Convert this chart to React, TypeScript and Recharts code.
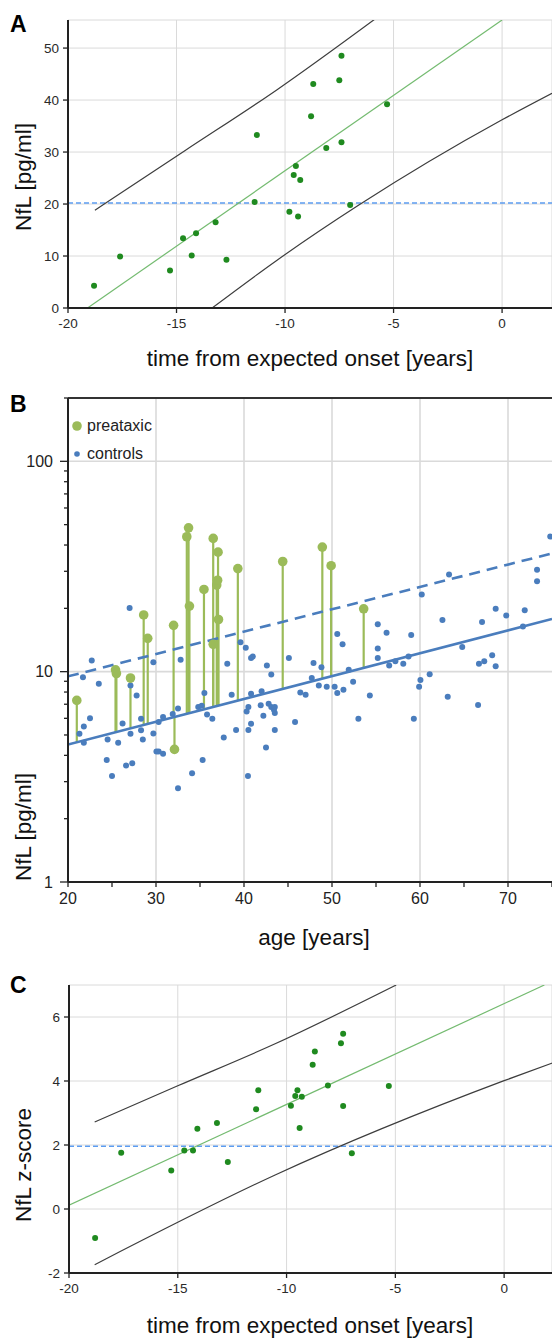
import React from 'react';
import { ComposedChart, Scatter, Line, XAxis, YAxis, CartesianGrid, ReferenceLine, Legend } from 'recharts';

// ---------- Panel A : NfL vs time from expected onset ----------
const aYears = [-18.8, -17.6, -15.3, -14.7, -14.3, -14.1, -13.2, -12.7, -11.4, -11.3, -7.4, -8.7, -7.5, -5.3, -8.8, -8.1, -7.4, -9.5, -9.6, -9.3, -7.0, -9.8, -9.4];
const aNfl = [4.3, 9.9, 7.2, 13.4, 10.1, 14.4, 16.5, 9.3, 20.4, 33.3, 48.5, 43.1, 43.8, 39.2, 36.9, 30.8, 31.9, 27.3, 25.6, 24.6, 19.8, 18.5, 17.6];
const aFitX = [-19.1, 0];
const aFitY = [0, 55.4];
const aUpperX = [-18.76, -14.6, -10.4, -5.85];
const aUpperY = [18.8, 30.3, 41.9, 55.6];
const aLowerX = [-13.36, -10.4, -6.6, 0, 2.3];
const aLowerY = [0, 9.1, 19.8, 36.2, 41.3];
const aThreshold = 20.2;
const aXTicks = [-20, -15, -10, -5, 0];
const aYTicks = [0, 10, 20, 30, 40, 50];

// ---------- Panel B : NfL vs age (log) ----------
const bPreAge = [21.0, 25.4, 25.5, 27.1, 28.6, 29.06, 32.0, 32.1, 33.5, 33.7, 33.8, 35.45, 36.5, 36.5, 36.9, 37.0, 37.05, 37.1, 39.3, 44.4, 48.9, 49.9, 53.6];
const bPreNfl = [7.3, 10.2, 9.8, 9.33, 18.6, 14.4, 16.6, 4.27, 43.8, 48.3, 20.5, 24.6, 43.0, 13.5, 25.8, 27.2, 37.0, 17.7, 30.9, 33.4, 39.1, 31.9, 19.9];
const bCtrlAge = [21.3, 21.7, 21.8, 21.8, 22.5, 22.7, 23.5, 24.4, 24.5, 25.0, 25.7, 26.2, 26.6, 27.0, 27.1, 27.1, 27.3, 27.8, 28.3, 28.3, 28.5, 29.7, 29.7, 30.05, 30.3, 30.8, 30.3, 30.8, 31.9, 32.5, 32.5, 32.8, 34.1, 34.8, 35.2, 35.3, 35.5, 35.8, 36.4, 37.7, 38.1, 38.6, 39.1, 39.6, 40.2, 40.3, 40.45, 40.5, 40.5, 40.8, 40.8, 40.8, 41.0, 41.9, 42.0, 42.2, 42.5, 42.6, 42.8, 43.1, 43.1, 43.4, 43.5, 43.5, 43.5, 45.1, 45.8, 46.4, 47.0, 47.7, 47.9, 48.5, 48.8, 49.4, 50.3, 50.6, 50.6, 51.2, 51.3, 51.9, 52.4, 53.0, 54.3, 55.2, 55.2, 55.2, 56.2, 56.5, 57.2, 58.1, 58.7, 59.0, 59.3, 59.9, 60.05, 60.2, 61.1, 62.55, 63.15, 63.3, 64.8, 66.6, 66.7, 67.05, 67.3, 68.2, 68.6, 68.6, 69.8, 71.7, 71.9, 73.3, 73.3, 74.8];
const bCtrlNfl = [5.07, 9.4, 5.49, 4.59, 6.0, 11.3, 8.77, 3.80, 4.76, 3.19, 4.59, 5.67, 3.58, 20.1, 8.6, 5.07, 3.67, 7.71, 5.97, 5.27, 4.76, 11.07, 5.08, 4.17, 4.17, 4.07, 5.76, 6.08, 6.29, 6.69, 2.79, 11.4, 3.29, 6.79, 6.89, 3.80, 7.91, 6.26, 5.97, 4.87, 10.9, 7.77, 5.28, 13.8, 13.0, 6.47, 3.19, 5.28, 6.79, 5.65, 7.85, 11.6, 11.8, 6.92, 8.06, 6.17, 4.36, 10.7, 7.04, 6.79, 9.7, 6.59, 6.79, 6.36, 5.28, 11.6, 5.76, 7.97, 7.77, 9.33, 11.0, 8.6, 10.5, 8.48, 8.48, 7.91, 15.1, 13.5, 8.21, 10.2, 8.96, 5.97, 7.71, 16.8, 12.9, 11.6, 15.3, 10.7, 11.2, 10.9, 11.8, 14.95, 5.97, 8.48, 9.13, 23.3, 9.71, 17.6, 7.6, 29.0, 13.1, 6.94, 10.9, 17.2, 11.2, 11.96, 10.6, 19.9, 18.5, 16.4, 19.6, 30.5, 26.9, 43.9];
const bFitAge = [20, 75];
const bFitSolid = [4.5, 17.8];
const bFitDashed = [9.5, 36.5];
const bXTicks = [20, 25, 30, 35, 40, 45, 50, 55, 60, 65, 70, 75];
const bXGrid = [30, 40, 50, 60, 70];
const bYTicks = [1, 2, 3, 4, 5, 6, 7, 8, 9, 10, 20, 30, 40, 50, 60, 70, 80, 90, 100, 200];
const bYLabels = [1, 10, 100];
const bYGrid = [10, 100];
const bLegend = ['preataxic', 'controls'];

// ---------- Panel C : z-score vs time from expected onset ----------
const cYears = [-18.8, -17.6, -15.3, -14.7, -14.3, -14.1, -13.2, -12.7, -11.4, -11.3, -7.4, -7.5, -8.7, -8.8, -8.1, -5.3, -9.5, -9.6, -9.3, -9.8, -7.4, -9.4, -7.0];
const cZ = [-0.91, 1.76, 1.20, 1.83, 1.83, 2.51, 2.69, 1.47, 3.12, 3.71, 5.48, 5.18, 4.92, 4.51, 3.86, 3.84, 3.71, 3.53, 3.51, 3.23, 3.22, 2.53, 1.74];
const cFitX = [-20, 1.85];
const cFitY = [0.12, 7.0];
const cUpperX = [-18.82, -15, -10.5, -4.96];
const cUpperY = [2.72, 3.85, 5.17, 7.0];
const cLowerX = [-18.82, -10.5, 0, 2.2];
const cLowerY = [-1.74, 1.07, 4.01, 4.56];
const cThreshold = 1.96;
const cXTicks = [-20, -15, -10, -5, 0];
const cYTicks = [-2, 0, 2, 4, 6];

const zip = (xs: number[], ys: number[]) => xs.map((x, i) => ({ x, y: ys[i] }));

const aPoints = zip(aYears, aNfl);
const aFit = zip(aFitX, aFitY);
const aUpper = zip(aUpperX, aUpperY);
const aLower = zip(aLowerX, aLowerY);
const bPre = zip(bPreAge, bPreNfl);
const bCtrl = zip(bCtrlAge, bCtrlNfl);
const bSolid = zip(bFitAge, bFitSolid);
const bDashed = zip(bFitAge, bFitDashed);
const cPoints = zip(cYears, cZ);
const cFit = zip(cFitX, cFitY);
const cUpper = zip(cUpperX, cUpperY);
const cLower = zip(cLowerX, cLowerY);

const fitAt = (age: number) => {
  const t = (age - bFitAge[0]) / (bFitAge[1] - bFitAge[0]);
  return Math.exp(Math.log(bFitSolid[0]) + t * (Math.log(bFitSolid[1]) - Math.log(bFitSolid[0])));
};

const FONT = '"Liberation Sans", Arial, Helvetica, sans-serif';
const DARK_GREEN = '#1f8a1f';
const LIGHT_GREEN = '#74bb70';
const BAND = '#3d3d3d';
const THRESH = '#5c9cf0';
const GRID = '#dadada';
const AXIS = '#222';
const B_GREEN = '#9bbb59';
const B_BLUE = '#4a7dbd';

const dot = (r: number, fill: string) => (p: any) => <circle cx={p.cx} cy={p.cy} r={r} fill={fill} />;

const B_TICK = 8;
const B_MARGIN = 7;
function BYTick(props: any) {
  const { x, y, payload } = props;
  const v = payload.value;
  const major = bYLabels.includes(v);
  const ax = x + B_TICK + B_MARGIN;
  return (
    <g>
      <line x1={ax} x2={ax - (major ? 8 : 4)} y1={y} y2={y} stroke={AXIS} strokeWidth={1.3} />
      {major && (
        <text x={x} y={y} dy="0.36em" textAnchor="end" fontSize={16} fill="#222" fontFamily={FONT}>
          {v}
        </text>
      )}
    </g>
  );
}

function BLegend() {
  return (
    <div style={{ fontFamily: FONT, fontSize: 16, color: '#222', lineHeight: '28px' }}>
      <div style={{ display: 'flex', alignItems: 'center' }}>
        <svg width={14} height={14} style={{ marginRight: 2 }}>
          <circle cx={6} cy={7} r={4.8} fill={B_GREEN} />
        </svg>
        <span>{bLegend[0]}</span>
      </div>
      <div style={{ display: 'flex', alignItems: 'center' }}>
        <svg width={14} height={14} style={{ marginRight: 2 }}>
          <circle cx={6} cy={7} r={2.8} fill={B_BLUE} />
        </svg>
        <span>{bLegend[1]}</span>
      </div>
    </div>
  );
}

const smallTick = { fontSize: 13.5, fill: '#2a2a2a', fontFamily: FONT };
const bigTick = { fontSize: 16, fill: '#222', fontFamily: FONT };
const TITLE = 22.5;

export default function App() {
  return (
    <div style={{ position: 'absolute', left: 0, top: 0, width: 552, height: 1339, background: '#fff', overflow: 'hidden', fontFamily: FONT }}>
      {/* Panel A */}
      <div style={{ position: 'absolute', left: 0, top: 0 }}>
        <ComposedChart width={552} height={370} margin={{ top: 20, right: 0, bottom: 0, left: 0 }}>
          <CartesianGrid stroke={GRID} strokeWidth={1} />
          <XAxis type="number" dataKey="x" domain={[-20, 2.3]} allowDataOverflow ticks={aXTicks} interval={0}
            height={62} tickSize={5} tickMargin={5} tick={smallTick}
            axisLine={{ stroke: AXIS, strokeWidth: 2 }} tickLine={{ stroke: AXIS, strokeWidth: 1.3 }} />
          <YAxis type="number" dataKey="y" domain={[0, 55.4]} allowDataOverflow ticks={aYTicks} interval={0}
            width={68} tickSize={5} tickMargin={4} tick={smallTick}
            axisLine={{ stroke: AXIS, strokeWidth: 2 }} tickLine={{ stroke: AXIS, strokeWidth: 1.3 }} />
          <ReferenceLine y={aThreshold} stroke={THRESH} strokeWidth={1.6} strokeDasharray="5 3" />
          <Line data={aUpper} dataKey="y" type="monotone" stroke={BAND} strokeWidth={1.2} dot={false} isAnimationActive={false} />
          <Line data={aLower} dataKey="y" type="monotone" stroke={BAND} strokeWidth={1.2} dot={false} isAnimationActive={false} />
          <Line data={aFit} dataKey="y" type="linear" stroke={LIGHT_GREEN} strokeWidth={1.2} dot={false} isAnimationActive={false} />
          <Scatter data={aPoints} dataKey="y" shape={dot(3, DARK_GREEN)} isAnimationActive={false} />
        </ComposedChart>
      </div>

      {/* Panel B */}
      <div style={{ position: 'absolute', left: 0, top: 390 }}>
        <ComposedChart width={552} height={532} margin={{ top: 8, right: 0, bottom: 0, left: 0 }}>
          {bXGrid.map((v) => (
            <ReferenceLine key={'gx' + v} x={v} stroke={GRID} strokeWidth={1.6} />
          ))}
          {bYGrid.map((v) => (
            <ReferenceLine key={'gy' + v} y={v} stroke={GRID} strokeWidth={1.6} />
          ))}
          <ReferenceLine y={200} stroke="#333" strokeWidth={2.2} />
          <XAxis type="number" dataKey="x" domain={[20, 75]} allowDataOverflow ticks={bXTicks} interval={0}
            height={40} tickSize={5} tickMargin={6} tick={bigTick}
            tickFormatter={(v: number) => (v % 10 === 0 ? String(v) : '')}
            axisLine={{ stroke: AXIS, strokeWidth: 2 }} tickLine={{ stroke: AXIS, strokeWidth: 1.3 }} />
          <YAxis type="number" dataKey="y" scale="log" domain={[1, 200]} allowDataOverflow ticks={bYTicks} interval={0}
            width={68} tickSize={B_TICK} tickMargin={B_MARGIN} tick={<BYTick />} tickLine={false}
            axisLine={{ stroke: AXIS, strokeWidth: 2 }} />
          {bPre.map((p, i) => (
            <ReferenceLine key={'stem' + i} segment={[{ x: p.x, y: p.y }, { x: p.x, y: fitAt(p.x) }]}
              stroke={B_GREEN} strokeWidth={2.2} ifOverflow="visible" />
          ))}
          <Line data={bDashed} dataKey="y" type="linear" stroke={B_BLUE} strokeWidth={2.6} strokeDasharray="11 7" dot={false} isAnimationActive={false} />
          <Line data={bSolid} dataKey="y" type="linear" stroke={B_BLUE} strokeWidth={2.6} dot={false} isAnimationActive={false} />
          <Scatter data={bCtrl} dataKey="y" shape={dot(3, B_BLUE)} isAnimationActive={false} />
          <Scatter data={bPre} dataKey="y" shape={dot(4.8, B_GREEN)} isAnimationActive={false} />
          <Legend layout="vertical" align="center" verticalAlign="middle" content={() => <BLegend />}
            wrapperStyle={{ left: 71, top: 22, width: 130, height: 60 }} />
        </ComposedChart>
      </div>

      {/* Panel C */}
      <div style={{ position: 'absolute', left: 0, top: 965 }}>
        <ComposedChart width={552} height={348} margin={{ top: 20, right: 0, bottom: 0, left: 0 }}>
          <CartesianGrid stroke={GRID} strokeWidth={1} />
          <XAxis type="number" dataKey="x" domain={[-20, 2.2]} allowDataOverflow ticks={cXTicks} interval={0}
            height={40} tickSize={5} tickMargin={5} tick={smallTick}
            axisLine={{ stroke: AXIS, strokeWidth: 2 }} tickLine={{ stroke: AXIS, strokeWidth: 1.3 }} />
          <YAxis type="number" dataKey="y" domain={[-2, 7]} allowDataOverflow ticks={cYTicks} interval={0}
            width={69} tickSize={5} tickMargin={4} tick={smallTick}
            axisLine={{ stroke: AXIS, strokeWidth: 2 }} tickLine={{ stroke: AXIS, strokeWidth: 1.3 }} />
          <ReferenceLine y={cThreshold} stroke={THRESH} strokeWidth={1.6} strokeDasharray="5 3" />
          <Line data={cUpper} dataKey="y" type="monotone" stroke={BAND} strokeWidth={1.2} dot={false} isAnimationActive={false} />
          <Line data={cLower} dataKey="y" type="monotone" stroke={BAND} strokeWidth={1.2} dot={false} isAnimationActive={false} />
          <Line data={cFit} dataKey="y" type="linear" stroke={LIGHT_GREEN} strokeWidth={1.2} dot={false} isAnimationActive={false} />
          <Scatter data={cPoints} dataKey="y" shape={dot(3, DARK_GREEN)} isAnimationActive={false} />
        </ComposedChart>
      </div>

      {/* Titles */}
      <svg width={552} height={1339} style={{ position: 'absolute', left: 0, top: 0, pointerEvents: 'none' }} fontFamily={FONT}>
        <text x={10} y={32} fontSize={23} fontWeight="bold" fill="#000">A</text>
        <text transform="translate(23,177) rotate(-90)" textAnchor="middle" dominantBaseline="central" fontSize={TITLE} fill="#111">NfL [pg/ml]</text>
        <text x={310} y={366} textAnchor="middle" fontSize={TITLE} fill="#111">time from expected onset [years]</text>

        <text x={10} y={412} fontSize={23} fontWeight="bold" fill="#000">B</text>
        <text transform="translate(23,827) rotate(-90)" textAnchor="middle" dominantBaseline="central" fontSize={TITLE} fill="#111">NfL [pg/ml]</text>
        <text x={314} y={945} textAnchor="middle" fontSize={TITLE} fill="#111">age [years]</text>

        <text x={10} y={993} fontSize={23} fontWeight="bold" fill="#000">C</text>
        <text transform="translate(23,1165) rotate(-90)" textAnchor="middle" dominantBaseline="central" fontSize={TITLE} fill="#111">NfL z-score</text>
        <text x={310} y={1333} textAnchor="middle" fontSize={TITLE} fill="#111">time from expected onset [years]</text>
      </svg>
    </div>
  );
}
